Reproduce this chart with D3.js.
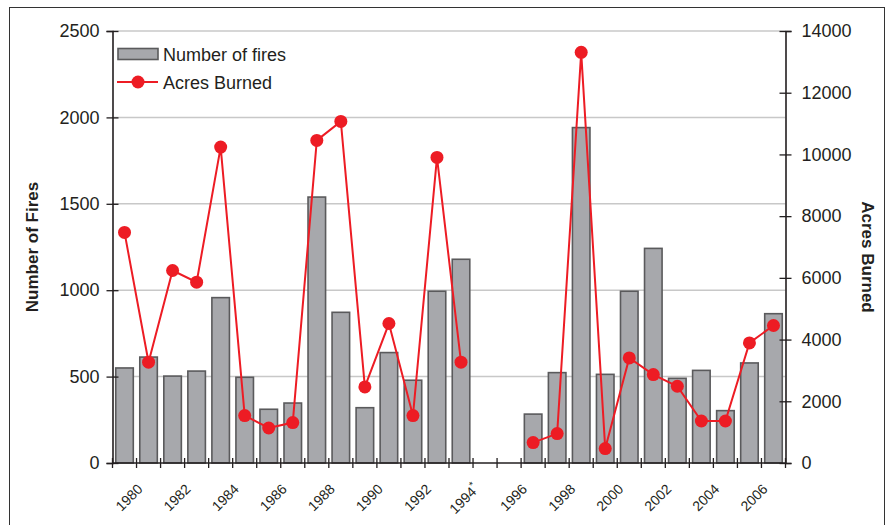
<!DOCTYPE html>
<html>
<head>
<meta charset="utf-8">
<script src="https://cdn.jsdelivr.net/npm/d3@7"></script>
<style>
  body { margin: 0; background: #fff; }
  svg text { font-family: "Liberation Sans", Arial, sans-serif; fill: #231f20; }
</style>
</head>
<body>
<svg width="891" height="525"></svg>
<script>
// chart data
var years = ["1980","1981","1982","1983","1984","1985","1986","1987","1988","1989",
             "1990","1991","1992","1993","1994","1995","1996","1997","1998","1999",
             "2000","2001","2002","2003","2004","2005","2006","2007"];
var yearLabels = ["1980","","1982","","1984","","1986","","1988","",
                  "1990","","1992","","1994*","","1996","","1998","",
                  "2000","","2002","","2004","","2006",""];
var fires = [550, 613, 503, 532, 957, 496, 311, 347, 1539, 872,
             320, 639, 479, 994, 1179, null, null, 283, 523, 1941,
             513, 994, 1242, 490, 536, 303, 579, 864];
var acres = [7472, 3266, 6239, 5860, 10238, 1537, 1135, 1310, 10455, 11071,
             2465, 4520, 1537, 9904, 3266, null, null, 661, 953, 13309,
             467, 3405, 2867, 2488, 1362, 1362, 3892, 4456];
var firesTicks = [0, 500, 1000, 1500, 2000, 2500];
var acresTicks = [0, 2000, 4000, 6000, 8000, 10000, 12000, 14000];

var svg = d3.select("svg");

var plotLeft = 112.5, plotRight = 785.5, plotTop = 31, plotBottom = 463;

var x = d3.scaleBand().domain(years).range([plotLeft, plotRight]).padding(0);
var yL = d3.scaleLinear().domain([0, 2500]).range([plotBottom, plotTop]);
var yR = d3.scaleLinear().domain([0, 14000]).range([plotBottom, plotTop]);

var rows = years.map(function(y, i) {
  return {year: y, label: yearLabels[i], fires: fires[i], acres: acres[i]};
});

// outer frame
svg.append("rect")
  .attr("x", 9.5).attr("y", 7.5)
  .attr("width", 875).attr("height", 530)
  .attr("fill", "none").attr("stroke", "#333").attr("stroke-width", 1);

// gridlines
svg.append("g").selectAll("line")
  .data(firesTicks.slice(1))
  .enter().append("line")
  .attr("x1", plotLeft).attr("x2", plotRight)
  .attr("y1", function(d) { return yL(d); })
  .attr("y2", function(d) { return yL(d); })
  .attr("stroke", "#c8c8c8").attr("stroke-width", 1.5);

// bars
var bw = x.bandwidth() * 0.73;
svg.append("g").selectAll("rect")
  .data(rows.filter(function(d) { return d.fires != null; }))
  .enter().append("rect")
  .attr("x", function(d) { return x(d.year) + (x.bandwidth() - bw) / 2; })
  .attr("y", function(d) { return yL(d.fires); })
  .attr("width", bw)
  .attr("height", function(d) { return plotBottom - yL(d.fires); })
  .attr("fill", "#a7a8ac")
  .attr("stroke", "#5a5a5c")
  .attr("stroke-width", 1.6);

// left axis
var axL = svg.append("g")
  .attr("transform", "translate(" + plotLeft + ",0)")
  .call(d3.axisLeft(yL).tickValues(firesTicks).tickFormat(d3.format("d")).tickSize(6).tickPadding(7));
axL.select(".domain").attr("stroke", "#231f20").attr("stroke-width", 1.6);
axL.selectAll(".tick line").attr("x1", 6).attr("stroke", "#231f20").attr("stroke-width", 1.3);
axL.selectAll(".tick text").attr("font-size", "18px").attr("font-family", null);

// right axis
var axR = svg.append("g")
  .attr("transform", "translate(" + plotRight + ",0)")
  .call(d3.axisRight(yR).tickValues(acresTicks).tickFormat(d3.format("d")).tickSize(6).tickPadding(10));
axR.select(".domain").attr("stroke", "#231f20").attr("stroke-width", 1.6);
axR.selectAll(".tick line").attr("x1", -6).attr("stroke", "#231f20").attr("stroke-width", 1.3);
axR.selectAll(".tick text").attr("font-size", "18px").attr("font-family", null);

// x axis line and ticks between categories
svg.append("line")
  .attr("x1", plotLeft).attr("x2", plotRight)
  .attr("y1", plotBottom).attr("y2", plotBottom)
  .attr("stroke", "#231f20").attr("stroke-width", 1.6);
var bounds = years.map(function(y) { return x(y); }).concat([plotRight]);
svg.append("g").selectAll("line")
  .data(bounds)
  .enter().append("line")
  .attr("x1", function(d) { return d; }).attr("x2", function(d) { return d; })
  .attr("y1", plotBottom - 5).attr("y2", plotBottom + 5)
  .attr("stroke", "#231f20").attr("stroke-width", 1.3);

// x labels
var xl = svg.append("g").selectAll("text")
  .data(rows.filter(function(d) { return d.label !== ""; }))
  .enter().append("text")
  .attr("font-size", "14px")
  .attr("text-anchor", "end")
  .attr("transform", function(d) {
    var cx = x(d.year) + x.bandwidth() / 2 + 19;
    return "translate(" + cx + ",490) rotate(-45)";
  });
xl.each(function(d) {
  var t = d3.select(this);
  if (d.label.indexOf("*") >= 0) {
    t.append("tspan").text(d.label.replace("*", ""));
    t.append("tspan").attr("font-size", "10px").attr("dy", -6).text("*");
  } else {
    t.text(d.label);
  }
});

// axis titles
svg.append("text")
  .attr("transform", "translate(38," + ((plotTop + plotBottom) / 2) + ") rotate(-90)")
  .attr("text-anchor", "middle")
  .attr("font-size", "17px").attr("font-weight", "bold")
  .text("Number of Fires");
svg.append("text")
  .attr("transform", "translate(862,257) rotate(90)")
  .attr("text-anchor", "middle")
  .attr("font-size", "17px").attr("font-weight", "bold")
  .text("Acres Burned");

// acres line
var line = d3.line()
  .defined(function(d) { return d.acres != null; })
  .x(function(d) { return x(d.year) + x.bandwidth() / 2; })
  .y(function(d) { return yR(d.acres); });
svg.append("path")
  .datum(rows)
  .attr("d", line)
  .attr("fill", "none")
  .attr("stroke", "#ed1c24")
  .attr("stroke-width", 2);
svg.append("g").selectAll("circle")
  .data(rows.filter(function(d) { return d.acres != null; }))
  .enter().append("circle")
  .attr("cx", function(d) { return x(d.year) + x.bandwidth() / 2; })
  .attr("cy", function(d) { return yR(d.acres); })
  .attr("r", 6.5)
  .attr("fill", "#ed1c24");

// legend
var lg = svg.append("g");
lg.append("rect")
  .attr("x", 118).attr("y", 48.5).attr("width", 40).attr("height", 11)
  .attr("fill", "#a7a8ac").attr("stroke", "#5a5a5c").attr("stroke-width", 1.6);
lg.append("text").attr("x", 163).attr("y", 60.5).attr("font-size", "18px").text("Number of fires");
lg.append("line")
  .attr("x1", 117).attr("x2", 158).attr("y1", 82).attr("y2", 82)
  .attr("stroke", "#ed1c24").attr("stroke-width", 2);
lg.append("circle").attr("cx", 138).attr("cy", 82).attr("r", 6.5).attr("fill", "#ed1c24");
lg.append("text").attr("x", 163).attr("y", 88.5).attr("font-size", "18px").text("Acres Burned");
</script>
</body>
</html>
